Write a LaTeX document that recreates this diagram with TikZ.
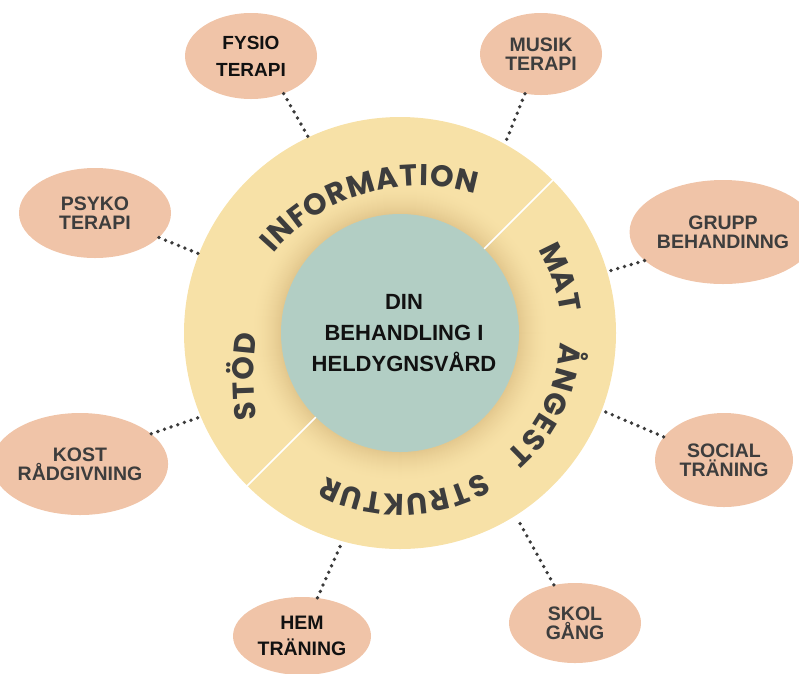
\documentclass[tikz,border=0pt]{standalone}
\usepackage{fontspec}
\setmainfont{Liberation Sans}
\newfontfamily\ringfont{Poppins}
\usetikzlibrary{shapes.geometric,calc}
\definecolor{ringc}{HTML}{F7E1A7}
\definecolor{shadc}{HTML}{E0C48A}
\definecolor{tealc}{HTML}{B2CEC4}
\definecolor{ovalc}{HTML}{F0C4A8}
\definecolor{darktxt}{HTML}{3D3D3D}
\definecolor{blacktxt}{HTML}{111111}
\definecolor{dotc}{HTML}{3A3A3A}
\newlength\rtw \newlength\rtsum \newlength\rtpos \newcount\rtn
\newcommand\ringfmt{\ringfont\bfseries\fontsize{30}{30}\selectfont}
% measure width of one letter, even inside a picture
\newcommand\measureletter[1]{%
  \pgfinterruptpicture
    \settowidth\rtw{\ringfmt#1}\xdef\rtwval{\the\rtw}%
  \endpgfinterruptpicture
  \rtw=\rtwval\relax
}
% #1 circle centre, #2 baseline radius, #3 first-letter angle, #4 last-letter angle, #5 letters
\newcommand\arcword[5]{%
  \global\rtsum=0pt \global\rtn=0
  \foreach \ltr in {#5}{%
    \measureletter{\ltr}%
    \global\advance\rtsum by \rtw
    \global\advance\rtn by 1
    \ifnum\rtn=1 \xdef\rtfirst{\the\rtw}\fi
    \xdef\rtlast{\the\rtw}%
  }%
  \pgfmathsetmacro\rtmid{#2+10.5}%
  \pgfmathsetmacro\rttrk{((#3-(#4))*pi/180*\rtmid - (\the\rtsum - \rtfirst/2 - \rtlast/2))/(\the\rtn-1)}%
  \global\rtpos=0pt
  \foreach \ltr in {#5}{%
    \measureletter{\ltr}%
    \pgfmathsetmacro\rtang{#3 - (\the\rtpos + \the\rtw/2 - \rtfirst/2)/\rtmid*180/pi}%
    \node[ringletter, rotate=\rtang-90] at ($(#1)+(\rtang:#2)$) {\ltr};
    \global\advance\rtpos by \rtw
    \global\advance\rtpos by \rttrk pt
  }%
}
\tikzset{
  ringletter/.style={anchor=base, inner sep=0pt, font=\ringfmt, text=darktxt},
  oval/.style={ellipse, fill=ovalc, inner sep=0pt, align=center, text=darktxt,
    font=\bfseries\fontsize{19.5}{19}\selectfont},
  dotline/.style={draw=dotc, line width=3.8pt, line cap=round, dash pattern=on 0pt off 7pt},
  divider/.style={draw=white, line width=1.6pt}
}
\begin{document}
\begin{tikzpicture}[x=1pt,y=1pt]
\useasboundingbox (0,0) rectangle (799,-673);
\coordinate (ctr) at (400,-333);
\coordinate (infoc) at (420,-380);
\coordinate (stodc) at (600,-378);
% ring
\fill[ringc] (ctr) circle[radius=216];
\foreach \k in {0,...,30}{%
  \pgfmathsetmacro\pp{85*(\k/30)^1.8}
  \fill[shadc!\pp!ringc] (ctr) circle[radius={150-\k}];
}
\node[circle, fill=tealc, minimum size=238pt, inner sep=0pt] (core) at (ctr) {};
\node[align=center, text=blacktxt, font=\bfseries\fontsize{22}{31}\selectfont] (coretext) at (404,-333.5)
  {DIN\\BEHANDLING I\\HELDYGNSVÅRD};
\draw[divider] ($(ctr)+(45:119)$) -- ($(ctr)+(45:216.5)$);
\draw[divider] ($(ctr)+(225:119)$) -- ($(ctr)+(225:216.5)$);
% ring words
\arcword{infoc}{194}{137.9}{76.7}{I,N,F,O,R,M,A,T,I,O,N}
\arcword{ctr}{161.5}{26.3}{10.3}{M,A,T}
\arcword{ctr}{160.5}{-7.5}{-45.7}{Å,N,G,E,S,T}
\arcword{ctr}{161.5}{-62.8}{-114}{S,T,R,U,K,T,U,R}
\arcword{stodc}{346}{185.3}{174.4}{S,T,Ö,D}
% satellites
\node[oval, minimum width=132pt, minimum height=86pt, text=blacktxt,
      font=\bfseries\fontsize{19}{27}\selectfont] (fysio) at (251,-56) {FYSIO\\TERAPI};
\node[oval, minimum width=122pt, minimum height=82pt] (musik) at (541,-54) {MUSIK\\TERAPI};
\node[oval, minimum width=152pt, minimum height=90pt] (psyko) at (95,-213) {PSYKO\\TERAPI};
\node[oval, minimum width=154pt, minimum height=104pt] (grupp) at (723,-232) {GRUPP\\BEHANDINNG};
\node[oval, minimum width=156pt, minimum height=102pt] (kost) at (80,-464) {KOST\\RÅDGIVNING};
\node[oval, minimum width=138pt, minimum height=94pt] (social) at (724,-460) {SOCIAL\\TRÄNING};
\node[oval, minimum width=132pt, minimum height=80pt] (skol) at (575,-623) {SKOL\\GÅNG};
\node[oval, minimum width=138pt, minimum height=78pt, text=blacktxt,
      font=\bfseries\fontsize{19.5}{26}\selectfont] (hem) at (302,-636) {HEM\\TRÄNING};
% ring attachment points
\coordinate (rF) at ($(ctr)+(115.1:217)$);
\coordinate (rM) at ($(ctr)+(61:217)$);
\coordinate (rG) at ($(ctr)+(16.5:218)$);
\coordinate (rP) at ($(ctr)+(158.5:217)$);
\coordinate (rK) at ($(ctr)+(202.8:217)$);
\coordinate (rS) at ($(ctr)+(-21:219)$);
\coordinate (rSk) at ($(ctr)+(-57.7:219)$);
\coordinate (rH) at ($(ctr)+(-105.5:217)$);
% connectors
\draw[dotline] (fysio.-49) -- (rF);
\draw[dotline] (musik.-112) -- (rM);
\draw[dotline] (grupp.-160) -- (rG);
\draw[dotline] (psyko.-21) -- (rP);
\draw[dotline] (kost.23) -- (rK);
\draw[dotline] (social.159) -- (rS);
\draw[dotline] (skol.119) -- (rSk);
\draw[dotline] (hem.68) -- (rH);
\end{tikzpicture}
\end{document}
